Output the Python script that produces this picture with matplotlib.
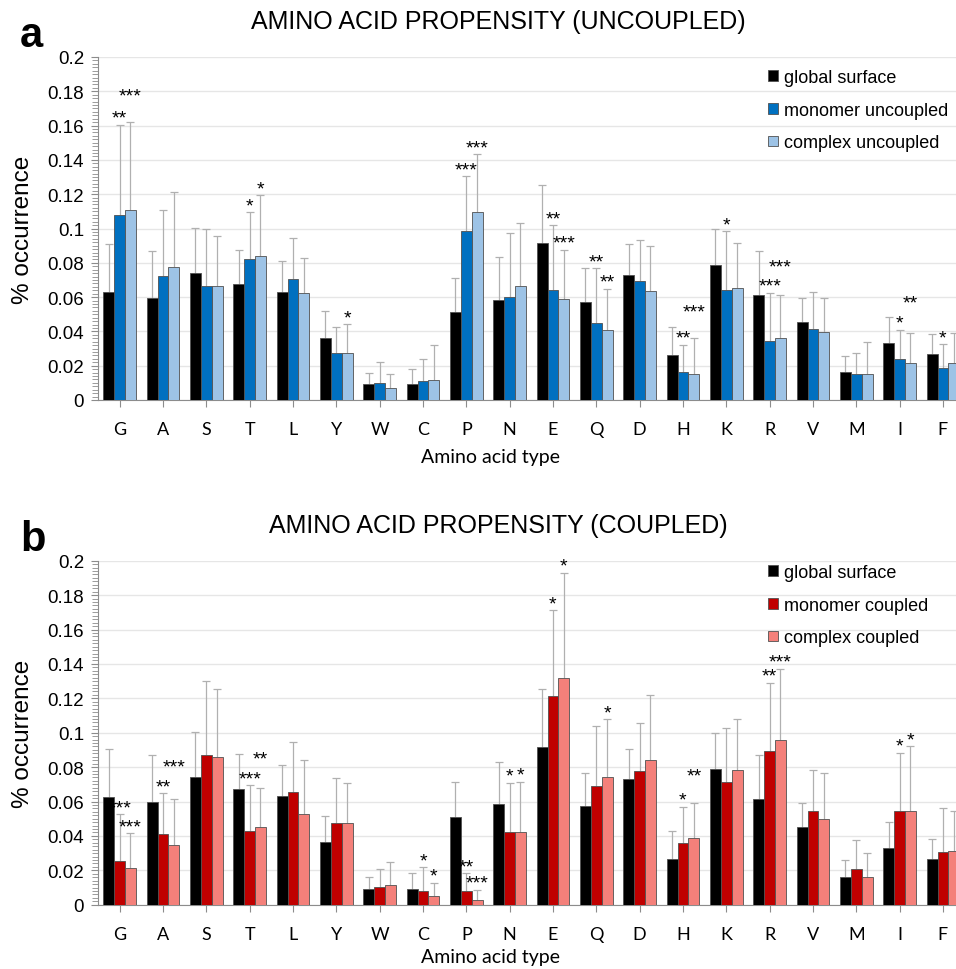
import matplotlib
matplotlib.use("Agg")
import matplotlib.pyplot as plt
from matplotlib.patches import Patch
from matplotlib.ticker import MultipleLocator
import numpy as np

# amino acids on the x axis
residues = ["G", "A", "S", "T", "L", "Y", "W", "C", "P", "N",
            "E", "Q", "D", "H", "K", "R", "V", "M", "I", "F"]

# global surface (same in both panels)
global_surf = [0.0628, 0.0597, 0.0743, 0.0674, 0.0632, 0.0363, 0.0093, 0.0092, 0.0512, 0.0584,
               0.0917, 0.0571, 0.0731, 0.0264, 0.0789, 0.0614, 0.0453, 0.0163, 0.0331, 0.0266]
global_sd = [0.0279, 0.0273, 0.0259, 0.0202, 0.0178, 0.0155, 0.0067, 0.0090, 0.0201, 0.0248,
             0.0337, 0.0197, 0.0176, 0.0163, 0.0209, 0.0255, 0.0140, 0.0094, 0.0152, 0.0116]

# panel a: uncoupled
mono_unc = [0.1076, 0.0724, 0.0665, 0.0823, 0.0708, 0.0272, 0.0099, 0.0109, 0.0984, 0.0602,
            0.0642, 0.0451, 0.0695, 0.0161, 0.0642, 0.0346, 0.0412, 0.0150, 0.0241, 0.0189]
mono_unc_sd = [0.0529, 0.0386, 0.0333, 0.0272, 0.0236, 0.0156, 0.0121, 0.0132, 0.0321, 0.0371,
               0.0376, 0.0317, 0.0237, 0.0160, 0.0342, 0.0279, 0.0216, 0.0122, 0.0169, 0.0136]
cplx_unc = [0.1107, 0.0774, 0.0667, 0.0842, 0.0623, 0.0272, 0.0068, 0.0117, 0.1095, 0.0667,
            0.0589, 0.0407, 0.0638, 0.0150, 0.0652, 0.0360, 0.0397, 0.0152, 0.0216, 0.0215]
cplx_unc_sd = [0.0513, 0.0436, 0.0290, 0.0353, 0.0206, 0.0170, 0.0082, 0.0202, 0.0337, 0.0366,
               0.0288, 0.0241, 0.0259, 0.0212, 0.0262, 0.0255, 0.0200, 0.0185, 0.0175, 0.0174]
mono_unc_sig = ["**", "", "", "*", "", "", "", "", "***", "",
                "**", "**", "", "**", "*", "***", "", "", "*", "*"]
cplx_unc_sig = ["***", "", "", "*", "", "*", "", "", "***", "",
                "***", "**", "", "***", "", "***", "", "", "**", ""]

# panel b: coupled
mono_cpl = [0.0256, 0.0411, 0.0868, 0.0428, 0.0655, 0.0477, 0.0103, 0.0078, 0.0078, 0.0422,
            0.1215, 0.0692, 0.0777, 0.0357, 0.0713, 0.0891, 0.0543, 0.0209, 0.0545, 0.0306]
mono_cpl_sd = [0.0271, 0.0236, 0.0434, 0.0266, 0.0289, 0.0257, 0.0104, 0.0139, 0.0105, 0.0287,
               0.0498, 0.0349, 0.0279, 0.0211, 0.0312, 0.0400, 0.0240, 0.0169, 0.0337, 0.0254]
cplx_cpl = [0.0213, 0.0349, 0.0857, 0.0452, 0.0529, 0.0477, 0.0112, 0.0052, 0.0029, 0.0422,
            0.1318, 0.0740, 0.0843, 0.0386, 0.0783, 0.0955, 0.0496, 0.0163, 0.0545, 0.0310]
cplx_cpl_sd = [0.0202, 0.0267, 0.0395, 0.0228, 0.0314, 0.0232, 0.0136, 0.0076, 0.0059, 0.0293,
               0.0612, 0.0338, 0.0376, 0.0207, 0.0298, 0.0417, 0.0271, 0.0135, 0.0377, 0.0233]
mono_cpl_sig = ["***", "**", "", "***", "", "", "", "*", "**", "*",
                "*", "", "", "*", "", "**", "", "", "*", ""]
cplx_cpl_sig = ["***", "***", "", "**", "", "", "", "*", "***", "*",
                "*", "*", "", "**", "", "***", "", "", "*", ""]

W, H = 956, 970
ARIAL = "Liberation Sans"
CALIBRI = "Lato"
ERR_GRAY = "#b0b0b0"


def star_heights(top_m, top_c, sig_m, sig_c):
    # star rows sit just above the whiskers; when the two stacks would
    # collide sideways, the complex one is lifted a row higher
    ym = np.array(top_m, dtype=float)
    yc = np.array(top_c, dtype=float)
    for i, (sm, sc) in enumerate(zip(sig_m, sig_c)):
        if sm and sc and len(sm) + len(sc) >= 3 and abs(yc[i] - ym[i]) < 0.007:
            yc[i] = max(yc[i], ym[i]) + 0.0115
    return ym, yc


def draw_panel(fig, rect, series, letter, title, title_y, letter_y, xlabel_y, legend_top):
    ax = fig.add_axes(rect)
    x = np.arange(len(residues))
    width = 0.25
    offsets = [-0.25, 0.0, 0.25]

    tops = []
    for (vals, sd, color, label, sig), off in zip(series, offsets):
        vals = np.array(vals)
        top = vals + np.array(sd)
        tops.append(top)
        xs = x + off
        # upper error bars only
        ax.vlines(xs, vals, top, color=ERR_GRAY, lw=0.9, zorder=2)
        ax.plot(xs, top, ls="none", marker="_", ms=6, mew=0.9, color=ERR_GRAY, zorder=2)
        ax.bar(xs, vals, width, color=color, edgecolor="#505050", lw=0.6, label=label, zorder=3)

    sig_m, sig_c = series[1][4], series[2][4]
    ym, yc = star_heights(tops[1], tops[2], sig_m, sig_c)
    for off, ys, sig in [(offsets[1], ym, sig_m), (offsets[2], yc, sig_c)]:
        for xi, yi, s in zip(x + off, ys, sig):
            if s:
                ax.annotate(s, (xi, yi), xytext=(0, 1.5), textcoords="offset points",
                            ha="center", va="baseline", fontsize=14, family=ARIAL, zorder=4)

    ax.set_xlim(-0.5, 19.5)
    ax.set_ylim(0, 0.2)
    ax.yaxis.set_minor_locator(MultipleLocator(0.002))
    ax.set_yticks(np.arange(0, 0.201, 0.02))
    ax.set_yticklabels(["0"] + [f"{v:g}" for v in np.arange(0.02, 0.201, 0.02).round(2)],
                       family=ARIAL, fontsize=13.5)
    ax.set_xticks(x)
    ax.set_xticklabels(residues, family=CALIBRI, fontsize=13)
    ax.grid(axis="y", color="#e6e6e6", lw=1, zorder=0)
    ax.set_axisbelow(True)
    for side in ["top", "right"]:
        ax.spines[side].set_visible(False)
    for side in ["left", "bottom"]:
        ax.spines[side].set_color("#8c8c8c")
    ax.tick_params(axis="y", which="major", length=5, color="#8c8c8c", pad=5)
    ax.tick_params(axis="y", which="minor", length=4, color="#8c8c8c")
    ax.tick_params(axis="x", length=5, color="#8c8c8c", pad=10)

    # legend
    handles = [Patch(facecolor=c, edgecolor="#505050", lw=0.6) for _, _, c, _, _ in series]
    labels = [lab for _, _, _, lab, _ in series]
    ax.legend(handles, labels, loc="upper left", bbox_to_anchor=(768 / W, 1 - legend_top / H),
              bbox_transform=fig.transFigure, frameon=False, prop={"family": ARIAL, "size": 13},
              handlelength=0.55, handleheight=0.55, handletextpad=0.35, labelspacing=0.87,
              borderaxespad=0, borderpad=0)

    fig.text(498 / W, 1 - title_y / H, title, ha="center", va="center", family=ARIAL, fontsize=18)
    fig.text(20 / W, 1 - letter_y / H, letter, ha="left", va="baseline", family=ARIAL,
             fontsize=30, fontweight="bold")
    fig.text(491 / W, 1 - xlabel_y / H, "Amino acid type", ha="center", va="center",
             family=CALIBRI, fontsize=14)
    ax_mid = rect[1] + rect[3] / 2
    fig.text(23 / W, ax_mid, "% occurrence", ha="center", va="center", rotation=90,
             family=ARIAL, fontsize=17.5)
    return ax


fig = plt.figure(figsize=(W / 100, H / 100), dpi=100)

left = 98 / W
width = (964.6 - 98) / W

rect_a = [left, 1 - 401 / H, width, (401 - 58) / H]
series_a = [
    (global_surf, global_sd, "#000000", "global surface", [""] * 20),
    (mono_unc, mono_unc_sd, "#0070C0", "monomer uncoupled", mono_unc_sig),
    (cplx_unc, cplx_unc_sd, "#9DC3E6", "complex uncoupled", cplx_unc_sig),
]
draw_panel(fig, rect_a, series_a, "a", "AMINO ACID PROPENSITY (UNCOUPLED)", 22, 47, 458, 70)

rect_b = [left, 1 - 905.7 / H, width, (905.7 - 561.7) / H]
series_b = [
    (global_surf, global_sd, "#000000", "global surface", [""] * 20),
    (mono_cpl, mono_cpl_sd, "#C00000", "monomer coupled", mono_cpl_sig),
    (cplx_cpl, cplx_cpl_sd, "#F4807A", "complex coupled", cplx_cpl_sig),
]
draw_panel(fig, rect_b, series_b, "b", "AMINO ACID PROPENSITY (COUPLED)", 526, 551, 958, 565)

fig.savefig("out.png", dpi=100)
